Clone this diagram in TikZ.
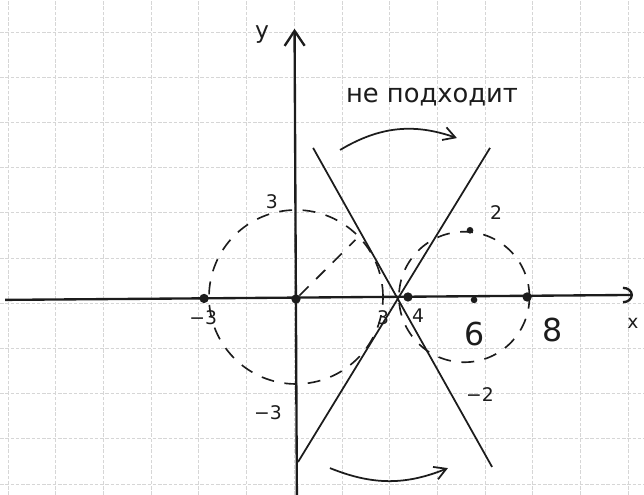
\documentclass[tikz,border=0pt]{standalone}
\usepackage{fontspec}
\setmainfont{DejaVu Sans}
\usetikzlibrary{arrows.meta, positioning, calc}
\definecolor{gridgrey}{HTML}{D6D6D6}
\definecolor{inkblack}{HTML}{1C1C1C}
\tikzset{
  >={Straight Barb[length=3.5mm, width=4mm]},
  axis/.style={line width=2pt, draw=inkblack},
  tang/.style={line width=1.5pt, draw=inkblack},
  guide/.style={line width=1.4pt, draw=inkblack, dash pattern=on 11pt off 9pt},
  gridl/.style={draw=gridgrey, line width=0.7pt, dash pattern=on 3pt off 1.5pt},
  dotm/.style={circle, fill=inkblack, inner sep=0pt, minimum size=2.8mm},
  dots/.style={dotm, minimum size=2mm},
  lbl/.style={font=\fontsize{16}{16}\selectfont, text=inkblack, inner sep=1pt},
  lblb/.style={lbl, font=\fontsize{27}{27}\selectfont},
  swing/.style={->, line width=1.5pt, draw=inkblack},
}

\begin{document}
\begin{tikzpicture}[x=0.87cm, y=0.87cm]
  \useasboundingbox (-10.207,-6.828) rectangle (12.0,10.241);
  % squared paper
  \foreach \k in {0,...,13}
    \draw[gridl] ({-9.931+1.645*\k},-6.828) -- ++(0,17.069);
  \foreach \k in {0,...,10}
    \draw[gridl] (-10.207,{9.138-1.559*\k}) -- ++(22.207,0);

  % axes
  \coordinate (xl) at (-10.03,-0.10);
  \coordinate (xr) at (11.62,0.07);
  \coordinate (yb) at (0.03,-6.83);
  \coordinate (yt) at (-0.05,9.25);
  \draw[axis, -{Arc Barb[length=3mm, width=5mm]}] (xl) -- (xr);
  \draw[axis, -{Straight Barb[length=4.5mm, width=6mm]}] (yb) -- (yt);
  \node[lbl] (xlab) at (11.62,-0.9) {x};
  \node[lbl, font=\fontsize{20}{20}\selectfont] (ylab) at (-1.17,9.05) {y};

  % circles
  \draw[guide] (0,0) circle (3);
  \draw[guide] (5.8,0) circle (2.25);
  \coordinate (tp) at (2.05,1.97);

  % tangent lines
  \coordinate (da) at (0.59,5.14);
  \coordinate (db) at (6.76,-5.86);
  \coordinate (ua) at (0.07,-5.69);
  \coordinate (ub) at (6.69,5.14);
  \draw[tang] (da) -- (db);
  \draw[tang] (ua) -- (ub);

  % marked points
  \node[dotm] (m3) at (-3.17,-0.05) {};
  \node[dotm] (o) at (0,-0.07) {};
  \draw[guide] (o) -- (tp);
  \node[dotm] (p4) at (3.86,0) {};
  \node[dots] (p6) at (6.14,-0.1) {};
  \node[dotm] (p8) at (7.97,0) {};
  \node[dots] (t2) at (6.0,2.3) {};

  \node[lbl] at (-3.2,-0.72) {−3};
  \node[lbl] at (3.0,-0.72) {3};
  \node[lbl] at (4.21,-0.66) {4};
  \node[lblb] at (6.14,-1.28) {6};
  \node[lblb] at (8.86,-1.14) {8};
  \node[lbl] at (-0.83,3.28) {3};
  \node[lbl] at (-0.97,-4.0) {−3};
  \node[lbl] at (6.9,2.9) {2};
  \node[lbl] at (6.34,-3.38) {−2};

  % the remark and its arrows
  \node[lbl, font=\fontsize{22}{22}\selectfont] (note) at (4.69,6.9) {не подходит};
  \coordinate (sa) at (1.52,5.07);
  \coordinate (sb) at (5.55,5.48);
  \coordinate (wa) at (1.17,-5.9);
  \coordinate (wb) at (5.24,-5.9);
  \draw[swing] (sa) to[bend left=25] (sb);
  \draw[swing] (wa) to[bend right=22] (wb);
\end{tikzpicture}
\end{document}
